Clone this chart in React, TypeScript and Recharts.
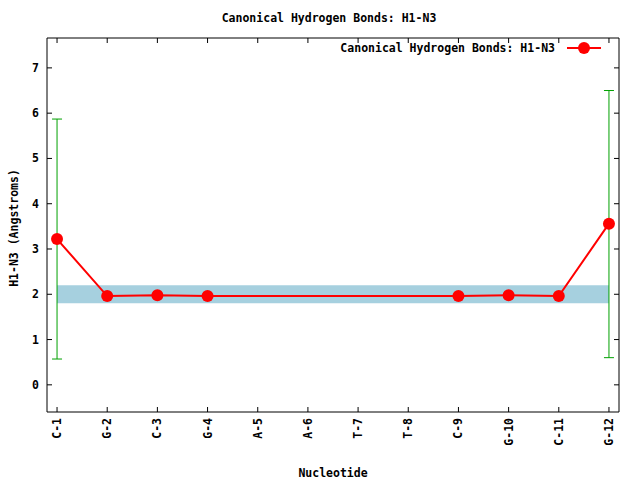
import { ErrorBar, Line, LineChart, ReferenceArea, XAxis, YAxis } from 'recharts'

const NUCLEOTIDES = ['C-1', 'G-2', 'C-3', 'G-4', 'A-5', 'A-6', 'T-7', 'T-8', 'C-9', 'G-10', 'C-11', 'G-12']
const H1_N3 = [3.22, 1.96, 1.98, 1.96, null, null, null, null, 1.96, 1.98, 1.96, 3.56]
const ERR_LOW = [0.57, null, null, null, null, null, null, null, null, null, null, 0.6]
const ERR_HIGH = [5.87, null, null, null, null, null, null, null, null, null, null, 6.5]
const Y_TICKS = [0, 1, 2, 3, 4, 5, 6, 7]
const X_TICKS = NUCLEOTIDES.map((_, i) => i)
const BAND = [1.8, 2.2]

const FONT = '"DejaVu Sans Mono", monospace'
const TITLE = 'Canonical Hydrogen Bonds: H1-N3'

const chartData = NUCLEOTIDES.map((name, i) => {
  const v = H1_N3[i]
  const lo = ERR_LOW[i]
  const hi = ERR_HIGH[i]
  return {
    idx: i,
    name,
    value: v,
    err: v != null && lo != null && hi != null ? [v - lo, hi - v] : null,
  }
})

function XTick({ x, y, payload }: any) {
  return (
    <text
      x={0}
      y={0}
      transform={`translate(${x},${y + 3}) rotate(-90)`}
      textAnchor="end"
      dominantBaseline="central"
      fontFamily={FONT}
      fontWeight="bold"
      fontSize={11.5}
      fill="#000"
    >
      {NUCLEOTIDES[payload.value]}
    </text>
  )
}

function YTick({ x, y, payload }: any) {
  return (
    <text x={x} y={y} textAnchor="end" dominantBaseline="central" fontFamily={FONT} fontWeight="bold" fontSize={11.5} fill="#000">
      {payload.value}
    </text>
  )
}

const NoLabel = () => <g />

const textStyle = { fontFamily: FONT, fontWeight: 'bold' as const, fontSize: 11.5, color: '#000' }

export default function App() {
  return (
    <div style={{ position: 'absolute', left: 0, top: 0, width: 640, height: 480, background: '#fff' }}>
      <div style={{ ...textStyle, position: 'absolute', left: 0, width: 658, top: 11, textAlign: 'center' }}>{TITLE}</div>
      <div style={{ ...textStyle, position: 'absolute', left: 0, width: 666, top: 466, textAlign: 'center' }}>Nucleotide</div>
      <div
        style={{
          ...textStyle,
          position: 'absolute',
          left: 14,
          top: 228,
          transform: 'translate(-50%, -50%) rotate(-90deg)',
          whiteSpace: 'nowrap',
        }}
      >
        H1-N3 (Angstroms)
      </div>
      <div style={{ ...textStyle, position: 'absolute', right: 31, top: 41, display: 'flex', alignItems: 'center' }}>
        <span>{TITLE}</span>
        <svg width={48} height={14} style={{ marginLeft: 6 }}>
          <line x1={6} x2={40} y1={7} y2={7} stroke="#ff0000" strokeWidth={2} />
          <circle cx={23} cy={7} r={6} fill="#ff0000" />
        </svg>
      </div>
      <LineChart width={640} height={480} data={chartData} margin={{ top: 37, right: 20, bottom: 0, left: 0 }}>
        <XAxis
          xAxisId="bottom"
          dataKey="idx"
          type="number"
          domain={[-0.2, 11.2]}
          ticks={X_TICKS}
          interval={0}
          allowDataOverflow
          height={68}
          tickSize={-5}
          tickMargin={8}
          stroke="#000"
          tick={<XTick />}
        />
        <XAxis
          xAxisId="top"
          orientation="top"
          dataKey="idx"
          type="number"
          domain={[-0.2, 11.2]}
          ticks={X_TICKS}
          interval={0}
          allowDataOverflow
          height={1}
          tickSize={-5}
          stroke="#000"
          tick={<NoLabel />}
        />
        <YAxis
          yAxisId="left"
          type="number"
          domain={[-0.6, 7.66]}
          ticks={Y_TICKS}
          interval={0}
          allowDataOverflow
          width={47}
          tickSize={-5}
          tickMargin={13}
          stroke="#000"
          tick={<YTick />}
        />
        <YAxis
          yAxisId="right"
          orientation="right"
          type="number"
          domain={[-0.6, 7.66]}
          ticks={Y_TICKS}
          interval={0}
          allowDataOverflow
          width={1}
          tickSize={-5}
          stroke="#000"
          tick={<NoLabel />}
        />
        <ReferenceArea
          xAxisId="bottom"
          yAxisId="left"
          x1={0}
          x2={NUCLEOTIDES.length - 1}
          y1={BAND[0]}
          y2={BAND[1]}
          fill="#a6d0df"
          fillOpacity={1}
          stroke="none"
        />
        <Line
          xAxisId="top"
          yAxisId="right"
          dataKey="value"
          stroke="none"
          dot={false}
          activeDot={false}
          legendType="none"
          isAnimationActive={false}
        />
        <Line
          xAxisId="bottom"
          yAxisId="left"
          dataKey="value"
          stroke="#ff0000"
          strokeWidth={2}
          connectNulls
          dot={{ r: 6, fill: '#ff0000', stroke: 'none' }}
          activeDot={false}
          isAnimationActive={false}
        >
          <ErrorBar dataKey="err" direction="y" width={5} stroke="#00a000" strokeWidth={1} isAnimationActive={false} />
        </Line>
      </LineChart>
    </div>
  )
}
